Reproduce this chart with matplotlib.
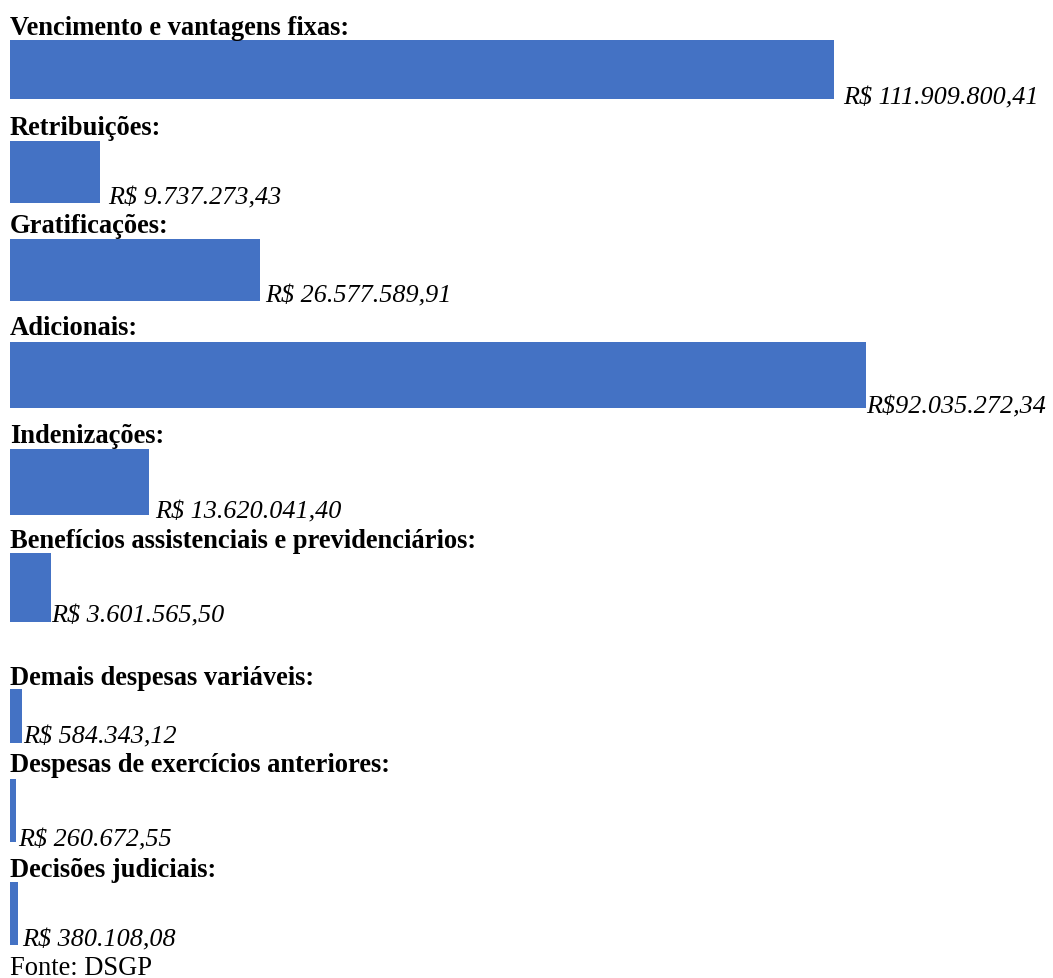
import matplotlib.pyplot as plt

# categorias e valores (R$)
categories = [
    "Vencimento e vantagens fixas:",
    "Retribuições:",
    "Gratificações:",
    "Adicionais:",
    "Indenizações:",
    "Benefícios assistenciais e previdenciários:",
    "Demais despesas variáveis:",
    "Despesas de exercícios anteriores:",
    "Decisões judiciais:",
]
value_labels = [
    "R$ 111.909.800,41",
    "R$ 9.737.273,43",
    "R$ 26.577.589,91",
    "R$92.035.272,34",
    "R$ 13.620.041,40",
    "R$ 3.601.565,50",
    "R$ 584.343,12",
    "R$ 260.672,55",
    "R$ 380.108,08",
]
# comprimento das barras como desenhado no original (R$ milhões)
bar_lengths = [111.9, 12.2, 34.0, 116.3, 18.9, 5.6, 1.6, 0.8, 1.1]
source = "Fonte: DSGP"

# layout em pixels (figura 1053 x 979)
W, H = 1053, 979
x0 = 10
px_per_unit = 824 / 111.9
bar_top = [41, 142, 240, 343, 450, 554, 690, 780, 883]
bar_bottom = [100, 204, 302, 409, 516, 623, 744, 843, 946]
label_base = [35, 135, 233, 335, 443, 548, 685, 772, 877]
value_base = [104, 204, 302, 413, 518, 622, 743, 846, 946]
value_gap = [9, 8, 5, 0, 6, 0, 1, 2, 4]

plt.rcParams['font.family'] = ['Liberation Serif', 'DejaVu Serif']

fig = plt.figure(figsize=(W / 100, H / 100), dpi=100)
ax = fig.add_axes([0, 0, 1, 1])
ax.set_xlim(-x0 / px_per_unit, (W - x0) / px_per_unit)
ax.set_ylim(H, 0)
ax.axis('off')

centers = [(t + b) / 2 for t, b in zip(bar_top, bar_bottom)]
heights = [b - t for t, b in zip(bar_top, bar_bottom)]
ax.barh(centers, bar_lengths, height=heights, left=0, color='#4472C4')

for i, cat in enumerate(categories):
    ax.text(0, label_base[i], cat, fontsize=19.1, fontweight='bold',
            va='baseline', ha='left', color='black')
    ax.text(bar_lengths[i] + value_gap[i] / px_per_unit, value_base[i], value_labels[i],
            fontsize=18.8, fontstyle='italic', va='baseline', ha='left', color='black')

ax.text(0, 975, source, fontsize=19.1, va='baseline', ha='left', color='black')

fig.savefig('out.png', dpi=100)
